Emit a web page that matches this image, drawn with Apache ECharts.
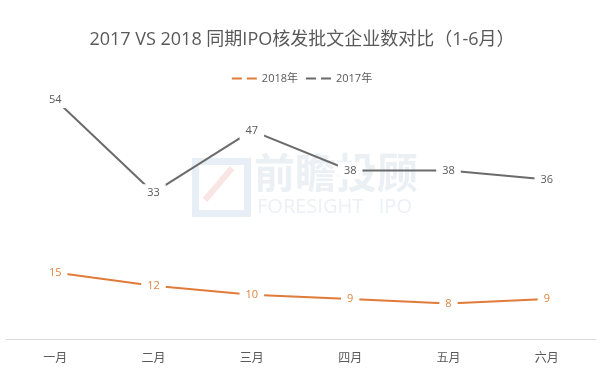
<!DOCTYPE html>
<html>
<head>
<meta charset="utf-8">
<script src="https://cdn.jsdelivr.net/npm/echarts@6/dist/echarts.min.js"></script>
<style>
html,body{margin:0;padding:0;background:#fff;}
#c{width:604px;height:369px;}
</style>
</head>
<body>
<div id="c"></div>
<script>
var categories = ['一月','二月','三月','四月','五月','六月'];
var series2018 = [15, 12, 10, 9, 8, 9];
var series2017 = [54, 33, 47, 38, 38, 36];
var seriesNames = ['2018年', '2017年'];
var titleText = '2017 VS 2018 同期IPO核发批文企业数对比（1-6月）';

var chart = echarts.init(document.getElementById('c'), null, {renderer: 'canvas'});
var fontFam = "'Open Sans','Noto Sans CJK SC',sans-serif";
var dashIcon = 'path://M0,0H10V2H0Z M15,0H25V2H15Z';

function mkSeries(name, data, lineColor, labelColor) {
  return {
    name: name,
    type: 'line',
    data: data,
    symbol: 'circle',
    symbolSize: 1,
    showSymbol: true,
    itemStyle: {color: lineColor},
    lineStyle: {color: lineColor, width: 2},
    label: {
      show: true,
      position: 'inside',
      color: labelColor,
      fontSize: 11,
      fontFamily: fontFam,
      backgroundColor: '#fff',
      padding: [3, 6]
    },
    emphasis: {disabled: true},
    animation: false
  };
}

chart.setOption({
  backgroundColor: '#fff',
  animation: false,
  title: {
    text: titleText,
    left: 'center',
    top: 26,
    textStyle: {fontSize: 18, fontWeight: 'normal', color: '#595959', fontFamily: fontFam}
  },
  legend: {
    top: 68,
    left: 'center',
    itemWidth: 25,
    itemHeight: 2,
    itemGap: 8,
    data: [
      {name: seriesNames[0], icon: dashIcon},
      {name: seriesNames[1], icon: dashIcon}
    ],
    textStyle: {fontSize: 11, color: '#595959', fontFamily: fontFam}
  },
  graphic: [
    {type: 'rect', left: 192, top: 158, shape: {width: 52, height: 52}, style: {fill: 'none', stroke: 'rgba(190,205,225,0.35)', lineWidth: 7}, z: -1},
    {type: 'line', shape: {x1: 205, y1: 200, x2: 232, y2: 168}, style: {stroke: 'rgba(240,170,170,0.3)', lineWidth: 6}, z: -1},
    {type: 'text', left: 254, top: 152, style: {text: '前瞻投顾', fontSize: 41, fontWeight: 'bold', fill: 'rgba(195,208,225,0.33)', fontFamily: "'Noto Sans CJK SC',sans-serif"}, z: -1},
    {type: 'text', left: 257, top: 197, style: {text: 'FORESIGHT   IPO', fontSize: 20, fill: 'rgba(195,208,225,0.33)', fontFamily: "'Open Sans',sans-serif"}, z: -1}
  ],
  grid: {left: 6, right: 8, top: 73, bottom: 30, containLabel: false},
  xAxis: {
    type: 'category',
    data: categories,
    boundaryGap: true,
    axisLine: {show: true, lineStyle: {color: '#d9d9d9', width: 1}},
    axisTick: {show: false},
    axisLabel: {color: '#595959', fontSize: 12, margin: 12, fontFamily: "'Noto Sans CJK SC',sans-serif"}
  },
  yAxis: {
    type: 'value',
    min: 0,
    max: 60,
    show: false,
    splitLine: {show: false}
  },
  series: [
    mkSeries(seriesNames[0], series2018, '#e07b39', '#dd8440'),
    mkSeries(seriesNames[1], series2017, '#6b6b6b', '#595959')
  ]
});
</script>
</body>
</html>
